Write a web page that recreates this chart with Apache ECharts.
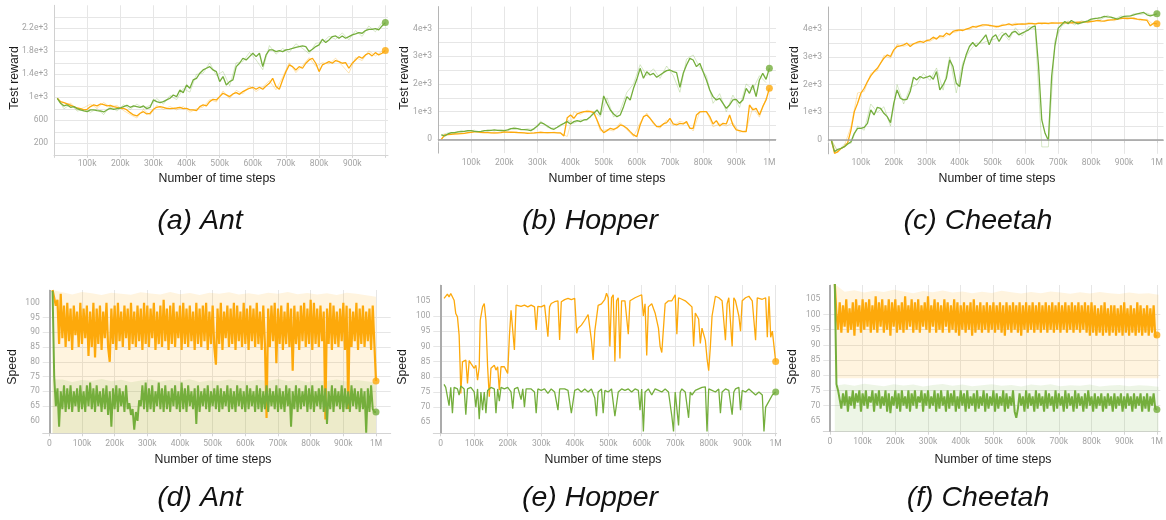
<!DOCTYPE html>
<html><head><meta charset="utf-8">
<script src="https://cdn.jsdelivr.net/npm/echarts@6/dist/echarts.min.js"></script>
<style>html,body{margin:0;padding:0;background:#fff}#c{width:1166px;height:520px}</style>
</head><body><div id="c"></div>
<script>
// ---------- Top row: test reward, sampled every 10k steps from 10k to 1M ----------
const topStartK = 10, topStepK = 10;
const aGreen = [983,896,850,867,826,838,803,780,762,750, 780,780,768,762,745,780,809,791,803,814,
  838,861,826,850,838,826,850,803,826,954, 925,907,925,954,983,1040,1012,1128,1081,1215,
  1157,1302,1330,1418,1476,1505,1534,1476,1447,1273, 1360,1215,1273,1302,1534,1592,1679,1650,1708,1766,
  1708,1766,1534,1737,1824,1824,1795,1812,1795,1824, 1835,1853,1870,1882,1893,1882,1795,1835,1882,1911,
  2009,1951,1998,2056,2067,2027,2067,2027,2056,2085, 2102,2125,2114,2160,2183,2183,2195,2172,2241,2299];
const aOrange = [983,925,907,884,861,838,814,803,780,791, 838,867,850,884,872,850,861,838,826,809,
  809,780,733,693,675,722,750,710,722,791, 826,838,826,809,803,809,814,826,803,809,
  780,780,768,838,867,850,925,965,954,1012, 1070,1041,1012,1058,1081,1052,1099,1128,1157,1174,
  1139,1174,1139,1197,1244,1330,1186,1139,1302,1447, 1563,1534,1476,1534,1505,1592,1650,1679,1592,1447,
  1563,1592,1621,1592,1638,1621,1592,1604,1505,1592, 1650,1708,1679,1737,1766,1720,1777,1737,1766,1812];
const bGreen = [157,120,193,241,241,265,277,289,313,313, 289,277,289,313,313,325,337,325,313,313,
  337,386,398,386,361,349,337,313,386,482, 602,554,482,398,361,434,518,578,639,554,
  639,675,639,699,723,819,940,1060,880,1567, 1301,1060,916,819,880,1181,1542,1422,1844,2169,
  2567,2205,2446,2326,2386,2241,2326,2410,2482,2506, 2446,2410,1880,2386,2687,2928,2868,2627,2747,2446,
  2145,1783,1542,1422,1482,1301,1121,1241,1422,1446, 1301,1422,1844,1663,1964,1542,2145,2386,2169,2567];
const bOrange = [0,157,169,181,193,193,205,217,241,253, 265,265,253,241,241,235,230,230,240,265,
  260,255,250,245,241,235,217,220,230,241, 245,240,238,241,241,235,230,120,780,880,
  759,916,964,1000,1012,1000,964,699,398,241, 313,398,361,410,518,482,398,277,157,96,
  518,819,880,759,602,458,458,554,602,759, 554,518,578,554,639,398,398,880,988,1000,
  1000,819,554,675,482,578,554,880,518,337, 313,277,277,1241,1060,1121,880,1181,1422,1844];
const cGreen = [0,-420,-337,-300,-241,-145,-60,241,422,422, 458,602,1085,904,1181,1145,964,844,627,1325,
  1808,1506,1446,1470,1747,2265,2169,2290,2229,2265, 2314,2193,2470,1808,1988,2229,2892,2651,2048,1928,
  2651,3073,3374,3519,3374,3495,3639,3796,3434,3711, 3796,3555,3760,3856,3711,3880,3916,3796,3856,3916,
  3977,4073,4121,2700,723,241,-20,2300,3400,4037, 4157,4277,4193,4314,4241,4193,4230,4265,4300,4362,
  4380,4398,4420,4458,4440,4434,4400,4362,4420,4458, 4470,4482,4520,4555,4580,4603,4519,4482,4519,4555];
const cOrange = [0,-482,-420,-300,-241,-96,361,1024,1325,1687, 1868,2109,2314,2470,2590,2771,2952,3073,3012,3254,
  3374,3398,3434,3495,3374,3470,3519,3555,3519,3591, 3615,3711,3639,3760,3736,3856,3796,3916,3952,3977,
  3952,4001,4037,4097,4073,4121,4157,4157,4133,4121, 4097,4097,4133,4157,4193,4145,4169,4181,4193,4181,
  4200,4210,4190,4217,4205,4220,4210,4225,4215,4217, 4230,4225,4235,4228,4241,4250,4245,4265,4260,4277,
  4290,4314,4300,4290,4320,4338,4345,4362,4380,4398, 4390,4398,4385,4362,4350,4338,4314,4121,4217,4193];
// faint raw curves behind the smoothed ones, every 20k from 10k
const rawStartK = 10, rawStepK = 20;
const aGreenRaw = [983,800,880,760,790, 740,800,700,850,760, 870,790,880,810,860, 980,880,1030,960,1150,
  1090,1400,1420,1600,1380, 1450,1200,1600,1620,1780, 1650,1480,1900,1750,1850, 1780,1930,1850,1760,1940,
  1950,2060,2010,2120,2000, 2160,2060,2240,2140,2300];
const aOrangeRaw = [983,860,900,780,820, 880,810,910,830,860, 770,700,640,790,690, 860,790,840,780,840,
  740,800,830,960,920, 1110,980,1120,1060,1200, 1100,1180,1290,1130,1350, 1600,1430,1550,1690,1540,
  1600,1580,1680,1550,1420, 1690,1640,1810,1720,1800];
const bGreenRaw = [157,230,200,320,280, 330,250,350,300,360, 300,440,330,380,350, 660,430,400,470,700,
  580,700,680,1000,820, 1500,800,1050,1700,2000, 2700,2300,2550,2200,2650, 2300,1700,2900,3050,2600,
  2300,1300,1650,1000,1600, 1150,2000,1800,2300,2050];
const bOrangeRaw = [0,200,170,230,220, 290,230,260,210,260, 240,270,220,240,210, 270,220,260,215,100,
  1000,900,1050,1000,300, 350,300,600,350,100, 600,950,550,400,700, 500,650,580,300,1000,
  1000,450,560,480,600, 250,330,1150,800,1500];
const cGreenRaw = [0,-400,-150,-120,500, 350,1300,1000,1200,500, 2000,1300,1900,2000,2400, 2150,2600,1800,3000,1700,
  2800,3200,3500,3500,3600, 3650,3900,3600,4050,3750, 4100,4000,-250,-250,3600, 4100,4300,4150,4300,4250,
  4400,4350,4500,4350,4480, 4420,4560,4530,4580,4480];
const cOrangeRaw = [0,-450,-200,500,1700, 1750,2400,2500,3050,2950, 3450,3380,3450,3480,3580, 3560,3700,3680,3850,3900,
  4000,3980,4120,4100,4180, 4050,4180,4150,4220,4160, 4240,4160,4240,4180,4250, 4200,4270,4210,4280,4230,
  4320,4260,4350,4300,4410, 4350,4420,4300,4360,4150];

// ---------- (d) Ant speed: every 5k steps from 10k ----------
const dStartK = 10, dStepK = 5;
const dOrange = [104.3,104,99,101,86,103,88,99,85,100, 87,98,84,99,89,97,85,100,86,98,
  88,99,82,97,85,100,81.5,98,86,99, 84,97,88,100,85,80,98,86,99,84,
  100,87,97,85,99,88,98,84,100,86, 97,85,99,87,98,84,100,86,99,85,
  98,88,100,84,97,86,99,85,101,87, 98,84,99,86,100,85,97,88,99,84,
  100,86,98,85,99,87,97,84,100,86, 98,85,99,87,100,84,97,86,99,85,
  79,98,86,100,84,97,88,99,85,98, 86,100,84,99,87,97,85,100,86,98,
  84,99,87,98,85,100,86,97,84,99, 86,61,98,85,99,87,100,79.5,98,86,
  99,84,97,86,100,85,98,77,99,86, 97,84,99,87,100,85,98,86,101,84,
  100,86,98,85,99,87,97,60.5,98,86, 100,84,99,86,97,85,98,87,100,84,
  99,64,98,85,97,87,100,84,98,86, 99,85,97,87,98,84,99,86,73.5];
const dGreen = [104,75,65,71,58,70,64,72,63,71, 64,72,63,70,65,71,63,72,64,70,
  63,72,65,73,64,71,63,72,65,70, 63,71,64,72,62,70,58,71,64,72,
  63,71,65,70,63,72,64,66,62,64, 57,63,60,67,65,72,64,73,63,71,
  64,72,63,70,65,73,64,71,63,72, 64,70,63,71,65,72,64,70,63,73,
  64,71,63,72,65,70,64,71,59,72, 63,70,65,71,64,72,63,70,65,71,
  64,72,63,71,64,70,65,72,63,71, 64,70,63,72,65,71,64,70,63,72,
  64,71,65,70,63,72,64,71,63,70, 64,72,63,71,65,70,64,72,63,71,
  64,70,63,72,65,71,58,70,64,72, 63,71,64,70,65,72,63,71,64,72,
  63,70,65,71,64,72,63,71,59,70, 64,72,63,71,65,70,64,72,63,71,
  64,70,63,72,65,71,64,70,63,71, 64,70,56,71,63,72,64,63,63];
const dFaintStartK = 10, dFaintStepK = 30;
const dOrangeFaintTop = [104.3,103.5,102.8,103.6,103.2,102.6,103.4,103.0,102.7,103.5,103.1,102.8,103.6,102.9,103.3,102.6,103.4,
  103.0,103.5,102.8,103.2,102.7,103.4,103.0,103.6,102.9,103.3,102.8,103.2,102.6,103.4,103.0,102.5,102.0];
const dGreenFaintTop = [74.0,74.0,73.2,73.8,73.5,74.2,73.4,73.9,73.1,73.7,74.0,73.3,73.8,73.5,74.1,73.2,73.7,
  73.4,74.0,73.6,73.3,73.9,73.5,74.2,73.4,73.8,73.2,73.7,73.5,74.0,73.3,73.8,73.4,73.0];

// ---------- (e) Hopper speed (irregular steps, in k) ----------
const eOrangeX = [10,15,20,25,30,35,40,45,50,55, 58,60,65,70,75,80,85,90,95,100, 105,110,115,118,125,130,135,140,145,150,
  155,160,165,170,175,180,185,190,195,200, 205,210,215,220,225,230,240,250,260,270, 280,285,290,300,310,320,325,330,340,350,
  355,360,370,380,390,400,406,410,420,430, 440,450,455,460,470,480,490,495,500,505, 510,515,520,525,530,535,540,550,560,565,
  570,580,590,600,605,610,615,620,630,640, 650,655,660,670,680,690,700,705,710,720, 730,740,750,755,760,770,775,780,790,795,
  800,805,810,820,830,840,850,855,860,870, 875,880,890,895,900,910,920,930,940,945, 950,960,970,975,980,985,990,1000];
const eOrange = [105.8,106.1,107.2,106.3,107.4,107.6,105.2,100.8,99.7,93.7, 83.3,74.5,84.9,84.4,85.5,77.8,85.3,84.4,84.9,82.8,
  83.8,78.9,83.3,98.6,103.0,104.1,98.6,83.3,73.4,82.8, 83.3,83.8,82.2,83.3,75.6,83.3,83.8,83.3,82.2,81.1,
  93.2,101.9,102.5,88.8,103.6,104.1,103.2,103.6,103.0,103.6, 103.0,95.4,103.2,103.0,103.6,93.2,103.0,104.1,104.7,105.0,
  92.1,104.7,105.4,105.8,105.4,105.8,94.3,96.0,97.0,98.6, 100.5,92,85.5,95,103.5,104,105.5,107.5,106,90,
  106,107,85,105,106,86,105,105,94,105, 105.5,106,106.5,107,100,104,87,103,104,101,
  96,90,88,104,105,105,107,94,106,105.5, 105,104,103,90,101,99,91,96,92,86,
  82,90,100,106.5,106,105,92,104,106,90, 106,105,100,95,105,106,106.5,105,92,106,
  106,105.5,106,93,106.5,93,95,85];
const eGreenX = [10,15,20,25,30,35,40,50,55,60, 70,75,80,90,100,105,110,115,120,125, 130,135,140,150,160,165,170,175,180,190,
  200,210,215,220,230,240,245,250,255,260, 270,280,285,290,300,310,320,330,340,350, 355,360,370,380,390,400,410,420,430,440,
  450,460,465,470,480,485,490,500,510,520, 530,540,550,560,570,580,590,595,600,605, 610,620,630,640,650,660,670,680,690,695,
  700,710,715,720,730,740,745,750,760,770, 780,790,795,800,810,820,830,835,840,850, 860,870,875,880,890,895,900,910,920,930,
  940,950,955,960,965,970,980,990,1000];
const eGreen = [77.5,76.5,76.8,70.5,76.5,68,76.5,76,74,77, 76,67.5,76,76.5,75,70,76,66,75,69, 75,68,75.5,76.5,76,68,76,72,76.5,76,
  76.5,75,69.5,76,76.5,72.5,76,70,76,75.5, 76,75,68,76,75.5,76,74.5,76,75,69, 76,75.5,76,75.5,68,75.5,76,75,76,75,
  76,73,67,75,76,68,75.5,75,76,67, 75,76,75.5,76,75,76,75.5,69,76,62, 75,76,74,76,75.5,75,76,75,67,62,
  75,64,75,76,75,66.5,75,74,75.5,76, 76.5,76.7,62,76,75.5,75,76,68,75,76, 75.5,67.5,75,76,76.5,69,75.5,75,76,75,
  74,75,75,74,62,70,72,74,75];

// ---------- (f) Cheetah speed: every 5k steps from 15k ----------
const fStartK = 15, fStepK = 5;
const fOrange = [110,100,95,104,94,103,96,105,94,102, 95,104,93,105,96,103,94,105,95,104,
  96,105,94,103,95,106,94,104,96,105, 94,103,95,105,93,104,96,105,94,103,
  95,104,94,106,95,103,96,105,94,104, 95,105,94,103,96,104,95,106,94,103,
  96,105,94,104,95,103,94,105,96,104, 94,103,95,105,94,104,93,103,95,104,
  94,103,95,104,93,105,94,103,95,104, 94,103,95,104,94,103,95,104,94,103,
  95,104,94,103,93,104,95,103,94,104, 95,103,94,104,93,103,95,104,94,103,
  95,104,94,103,95,104,94,103,95,104, 94,103,95,104,94,103,95,104,94,103,
  95,104,94,103,95,104,94,103,95,104, 94,103,95,104,94,103,93,104,94,103,
  93,102,94,103,93,104,94,102,93,103, 94,103,93,102,94,103,93,104,94,102,
  93,103,94,102,93,104,94,103,93,102, 94,103,93,102,94,103,92.5,93.2];
const fGreen = [110,77,75,72,69,74,70,75,68,73, 70,75,69,74,71,75,68,74,70,75,
  69,73,71,75,68,74,70,75,69,73, 70,75,68,74,67.5,73,70,75,69,74,
  68,75,70,73,69,75,68,74,70,75, 69,73,71,75,68,74,70,75,69,73,
  70,75,68,74,69,75,70,73,68,75, 69,74,70,75,68,73,69,75,70,74,
  68,75,69,73,70,74,68,75,69,73, 70,75,68,74,69,73,70,75,68,74,
  69,73,70,75,68,74,69,73,70,75, 68,66,69,74,70,73,68,75,69,74,
  70,73,68,75,69,74,70,73,68,75, 69,74,70,73,68,75,69,74,70,73,
  68,75,69,74,70,73,68,75,69,74, 70,73,68,74,69,75,70,73,68,74,
  69,73,70,74,68,73,69,74,70,73, 68,74,69,73,70,74,68,73,69,74,
  70,73,68,74,69,73,70,74,68,73, 69,74,68,73,70,74,69,68.7];
const fFaintStartK = 15, fFaintStepK = 30;
const fOrangeFaintTop = [110,107.5,108.0,107.2,107.8,107.4,108.1,107.6,107.0,107.7,107.3,107.9,107.2,107.6,107.0,107.5,107.1,
  107.8,107.3,106.9,107.4,107.0,107.6,107.2,106.8,107.3,106.9,107.4,107.0,106.7,107.2,106.8,107.0,106.5];
const fOrangeFaintFloor = 79;
const fGreenFaintTop = [76.5,77.0,76.5,77.2,76.8,76.4,77.0,76.6,76.9,76.3,76.8,77.1,76.5,76.9,76.4,76.7,77.0,
  76.5,76.8,76.3,76.9,76.6,77.0,76.4,76.7,76.5,76.9,76.3,76.6,76.8,76.4,76.7,76.5,76.2];

// ---------- axis tick labels ----------
const xTicksK = [0,100,200,300,400,500,600,700,800,900,1000];
const aXLabelsK = [100,200,300,400,500,600,700,800,900];
const aYTicks = [0,200,400,600,800,1000,1200,1400,1600,1800,2000,2200,2400,2600];
const aYLabels = [200,600,1000,1400,1800,2200];
const bcYTicks = [-500,0,500,1000,1500,2000,2500,3000,3500,4000,4500];
const bcYLabels = [0,1000,2000,3000,4000];
const dYTicks = [60,65,70,75,80,85,90,95,100];
const efYTicks = [65,70,75,80,85,90,95,100,105];

const captions = ['(a) Ant','(b) Hopper','(c) Cheetah','(d) Ant','(e) Hopper','(f) Cheetah'];

// ---------- build ----------
const GREEN = '#74ae3c', ORANGE = '#fda90b';
const GREEN_FAINT = 'rgba(116,174,60,0.13)', ORANGE_FAINT = 'rgba(253,169,11,0.13)';
const GREEN_RAW = 'rgba(116,174,60,0.28)', ORANGE_RAW = 'rgba(253,169,11,0.30)';
const LBL = {color:'#a3a3a3', fontSize:8.5, fontFamily:'Roboto'};
const GRIDC = '#e6e6e6';

function reg(startK, stepK, vals){ return vals.map((v,i)=>[(startK+i*stepK)*1000, v]); }
function pairs(xk, vals){ return vals.map((v,i)=>[xk[i]*1000, v]); }
const fmtX = v => v===0 ? '0' : (v===1e6 ? '1M' : (v/1000)+'k');
const fmtE3 = v => v===0 ? '0' : (Math.abs(v)>=1000 ? (v/1000)+'e+3' : String(v));

const grids = [
  {left:54, top:5.3, width:334, height:149.5},
  {left:438, top:6.6, width:338, height:146.5},
  {left:828, top:7, width:338, height:146.85},
  {left:42.7, top:290, width:348, height:143.3},
  {left:433.3, top:285, width:343.4, height:148.3},
  {left:823.3, top:285, width:342.7, height:146.7}
];
const xr = [[0,1008000],[0,1020000],[0,1020000],[-20200,1045000],[-22100,1003000],[-20200,1010500]];
const yr = [[0,2600],[-500,4800],[-500,4800],[55.8,104.3],[61.4,110.2],[61.4,109.7]];
const yTicks = [aYTicks,bcYTicks,bcYTicks,dYTicks,efYTicks,efYTicks];
const yLabels = [aYLabels,bcYLabels,bcYLabels,dYTicks,efYTicks,efYTicks];
const xLabelsK = [aXLabelsK, xTicksK.slice(1), xTicksK.slice(1), xTicksK, xTicksK, xTicksK];

const xAxes = grids.map((g,i)=>({type:'value', gridIndex:i, min:xr[i][0], max:xr[i][1],
  axisLine:{show:true, lineStyle:{color:'#d4d4d4'}},
  axisTick:{show:true, length:3, lineStyle:{color:'#d4d4d4'}, customValues:xTicksK.map(k=>k*1000)},
  axisLabel:{...LBL, margin:i<3?5:6, customValues:xLabelsK[i].map(k=>k*1000), formatter:fmtX},
  splitLine:{show:true, lineStyle:{color:GRIDC}}}));
const yAxes = grids.map((g,i)=>({type:'value', gridIndex:i, min:yr[i][0], max:yr[i][1],
  axisLine:{show:true, lineStyle:{color: i===0 ? '#d0d0d0' : (i<3 ? '#b5b5b5' : '#dadada')}},
  axisTick:{show:false, customValues:yTicks[i]},
  axisLabel:{...LBL, margin:i<3?6:3, customValues:yLabels[i], formatter: i<3 ? fmtE3 : (v=>String(v))},
  splitLine:{show:true, showMinLine:false, showMaxLine:false, lineStyle:{color:GRIDC}}}));

const series = [];
function line(gi, data, color, extra, width){
  series.push(Object.assign({type:'line', xAxisIndex:gi, yAxisIndex:gi, data, symbol:'none', showSymbol:false,
    lineStyle:{color, width:width||1.3}, itemStyle:{color}, z:3, silent:true}, extra||{}));
}
function dot(gi, data, color){
  series.push({type:'scatter', xAxisIndex:gi, yAxisIndex:gi, data:[data[data.length-1]], symbolSize:7,
    itemStyle:{color}, z:6, silent:true});
}
function area(gi, data, color, origin){
  series.push({type:'line', xAxisIndex:gi, yAxisIndex:gi, data, symbol:'none', showSymbol:false,
    lineStyle:{width:0, color}, areaStyle:{color, opacity:1, origin: origin===undefined ? 'start' : origin}, z:1, silent:true});
}
const zeroH = {silent:true, symbol:'none', label:{show:false}, lineStyle:{color:'#a0a0a0', width:1.5, type:'solid'}, data:[{yAxis:0}]};
const zeroV = {silent:true, symbol:'none', label:{show:false}, lineStyle:{color:'#ababab', width:2, type:'solid'}, data:[{xAxis:0}]};

// top row
const topRows = [[aGreen,aOrange,aGreenRaw,aOrangeRaw],[bGreen,bOrange,bGreenRaw,bOrangeRaw],[cGreen,cOrange,cGreenRaw,cOrangeRaw]];
topRows.forEach(([g,o,gr,orw],i)=>{
  line(i, reg(rawStartK, rawStepK, orw), ORANGE_RAW, {z:2}, 1);
  line(i, reg(rawStartK, rawStepK, gr), GREEN_RAW, {z:2}, 1);
  const gd = reg(topStartK, topStepK, g), od = reg(topStartK, topStepK, o);
  line(i, od, ORANGE, i>0 ? {markLine:zeroH} : {});
  line(i, gd, GREEN);
  dot(i, gd, GREEN); dot(i, od, ORANGE);
});
// (d)
area(3, reg(dFaintStartK, dFaintStepK, dOrangeFaintTop), ORANGE_FAINT);
area(3, reg(dFaintStartK, dFaintStepK, dGreenFaintTop), GREEN_FAINT);
{ const od = reg(dStartK, dStepK, dOrange), gd = reg(dStartK, dStepK, dGreen);
  line(3, od, ORANGE, {markLine:zeroV}, 2.2); line(3, gd, GREEN, {}, 2.0); dot(3, gd, GREEN); dot(3, od, ORANGE); }
// (e)
{ const od = pairs(eOrangeX, eOrange), gd = pairs(eGreenX, eGreen);
  line(4, od, ORANGE, {markLine:zeroV}); line(4, gd, GREEN); dot(4, gd, GREEN); dot(4, od, ORANGE); }
// (f)
area(5, reg(fFaintStartK, fFaintStepK, fOrangeFaintTop), ORANGE_FAINT, fOrangeFaintFloor);
area(5, reg(fFaintStartK, fFaintStepK, fGreenFaintTop), GREEN_FAINT);
{ const od = reg(fStartK, fStepK, fOrange), gd = reg(fStartK, fStepK, fGreen);
  line(5, od, ORANGE, {markLine:zeroV}, 2.2); line(5, gd, GREEN, {}, 2.0); dot(5, gd, GREEN); dot(5, od, ORANGE); }

// texts
const TXT = '"Liberation Sans", Arial, sans-serif';
const graphics = [];
const capPos = [[200,221],[590,221],[978,221],[200,498],[590,498],[978,498]];
captions.forEach((t,i)=>graphics.push({type:'text', x:capPos[i][0], y:capPos[i][1], silent:true,
  style:{text:t, font:'italic 28.5px '+TXT, fill:'#111', align:'center', verticalAlign:'middle'}}));
const xTitlePos = [[217,179],[607,179],[997,179],[213,460],[603,460],[993,460]];
xTitlePos.forEach(p=>graphics.push({type:'text', x:p[0], y:p[1], silent:true,
  style:{text:'Number of time steps', font:'12.3px '+TXT, fill:'#1a1a1a', align:'center', verticalAlign:'middle'}}));
const yTitlePos = [[15,78,'Test reward'],[405,78,'Test reward'],[795,78,'Test reward'],[13,367,'Speed'],[403,367,'Speed'],[793,367,'Speed']];
yTitlePos.forEach(p=>graphics.push({type:'text', x:p[0], y:p[1], rotation:Math.PI/2, silent:true,
  style:{text:p[2], font:'12.3px '+TXT, fill:'#1a1a1a', align:'center', verticalAlign:'middle'}}));

const chart = echarts.init(document.getElementById('c'));
chart.setOption({animation:false, backgroundColor:'#fff', grid:grids, xAxis:xAxes, yAxis:yAxes, series, graphic:graphics});
</script></body></html>
